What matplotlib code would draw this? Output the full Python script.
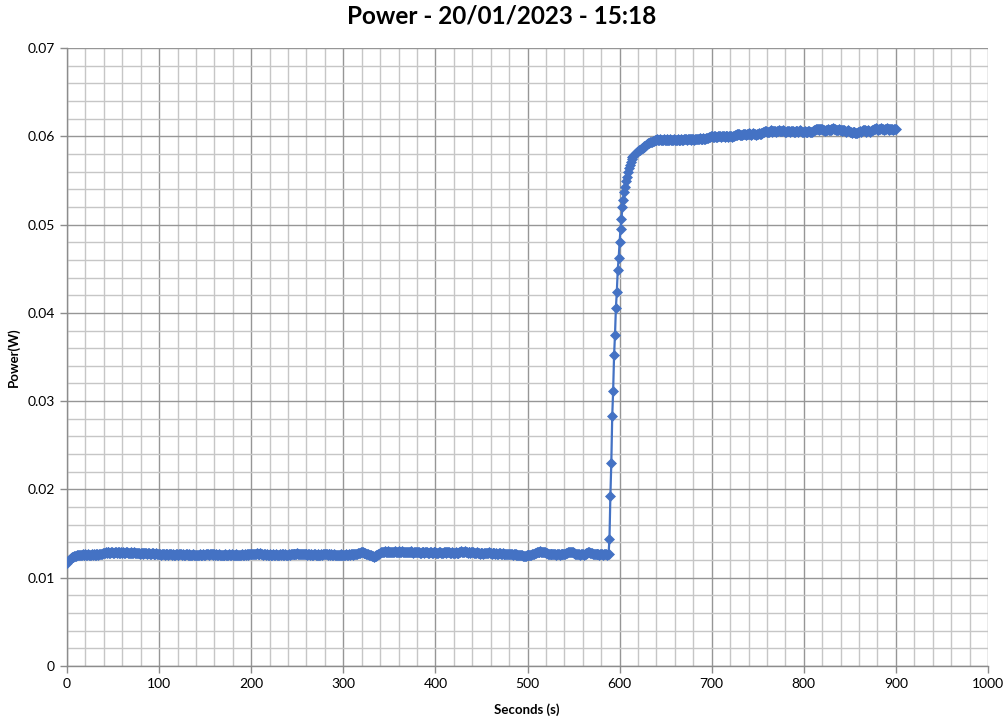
import numpy as np
import matplotlib
matplotlib.use("Agg")
import matplotlib.pyplot as plt
from matplotlib.ticker import MultipleLocator, FuncFormatter

# Power readings in units of 1e-5 W, one per second starting at t = 0 s
baseline = """
1170 1190 1205 1215 1225 1230 1235 1240 1245 1248 1250 1255 1252 1258 1262 1255 1260 1265 1258 1262
1265 1258 1262 1270 1260 1255 1262 1268 1260 1265 1258 1262 1270 1265 1260 1268 1272 1265 1270 1275
1280 1285 1290 1282 1288 1292 1285 1280 1288 1290 1285 1282 1290 1288 1283 1287 1292 1285 1280 1286
1282 1288 1285 1280 1286 1290 1283 1278 1285 1288 1282 1276 1283 1287 1280 1275 1282 1285 1279 1274
1280 1283 1277 1272 1278 1282 1275 1270 1276 1280 1273 1268 1275 1279 1272 1267 1273 1277 1270 1266
1272 1266 1262 1268 1272 1265 1260 1266 1270 1263 1258 1265 1270 1264 1260 1266 1262 1258 1264 1268
1262 1258 1265 1270 1263 1259 1266 1262 1257 1263 1268 1262 1258 1264 1260 1255 1261 1266 1260 1256
1262 1258 1254 1260 1265 1259 1255 1262 1267 1262 1258 1265 1270 1264 1260 1266 1272 1266 1262 1268
1264 1260 1266 1262 1258 1264 1260 1256 1262 1258 1254 1260 1265 1259 1256 1262 1266 1260 1257 1263
1259 1255 1261 1265 1259 1256 1262 1258 1254 1260 1264 1258 1262 1266 1261 1264 1268 1262 1266 1270
1266 1270 1274 1268 1264 1270 1275 1270 1266 1272 1276 1270 1266 1262 1268 1264 1260 1266 1262 1258
1264 1260 1256 1262 1266 1260 1257 1263 1259 1255 1261 1265 1259 1263 1267 1262 1258 1264 1260 1256
1262 1266 1260 1264 1268 1264 1270 1274 1268 1272 1276 1272 1268 1274 1270 1266 1272 1268 1264 1270
1266 1262 1268 1264 1260 1266 1262 1258 1264 1268 1262 1258 1264 1260 1256 1262 1266 1260 1264 1268
1264 1270 1266 1262 1268 1264 1260 1266 1262 1258 1264 1260 1256 1262 1258 1254 1260 1264 1258 1262
1258 1254 1260 1264 1258 1262 1266 1260 1264 1268 1263 1259 1265 1270 1266 1272 1276 1280 1284 1288
1292 1288 1284 1280 1276 1272 1268 1264 1260 1256 1252 1248 1244 1240 1244 1248 1254 1260 1266 1272
1280 1286 1292 1296 1292 1298 1294 1290 1296 1300 1294 1290 1296 1292 1288 1294 1298 1292 1288 1294
1298 1293 1288 1294 1300 1296 1290 1286 1292 1296 1290 1286 1292 1298 1294 1288 1284 1290 1296 1292
1288 1294 1290 1284 1280 1286 1292 1288 1284 1290 1294 1288 1284 1280 1286 1290 1284 1280 1286 1292
1288 1282 1278 1284 1290 1286 1280 1276 1282 1288 1293 1288 1284 1290 1294 1288 1284 1280 1286 1282
1278 1284 1288 1282 1278 1284 1290 1294 1298 1294 1290 1296 1300 1294 1288 1284 1290 1286 1282 1288
1292 1286 1282 1278 1284 1288 1282 1278 1274 1280 1284 1278 1274 1280 1284 1280 1276 1282 1286 1280
1276 1272 1278 1282 1276 1272 1278 1274 1270 1276 1280 1274 1270 1276 1272 1268 1274 1270 1266 1272
1268 1264 1270 1266 1262 1268 1264 1260 1266 1262 1258 1254 1260 1256 1252 1250 1248 1246 1250 1254
1258 1262 1258 1256 1262 1266 1270 1274 1278 1282 1288 1292 1288 1294 1298 1292 1288 1294 1290 1286
1282 1278 1274 1270 1274 1270 1266 1270 1274 1270 1266 1262 1266 1270 1266 1262 1268 1272 1268 1264
1270 1274 1280 1284 1288 1292 1288 1294 1290 1286 1282 1278 1274 1270 1266 1270 1266 1262 1266 1270
1266 1262 1268 1272 1276 1282 1286 1290 1284 1280 1276 1272 1268 1272 1268 1264 1268 1264 1260 1264
1268 1264 1260 1264 1268 1264 1262 1266 1268
"""

rise = """
1440 1930 2300 2830 3120 3520 3750 4060 4240 4490 4620 4800 4950 5060 5200 5280
5370 5430 5490 5540 5590 5640 5680 5710 5740 5760 5780 5790 5800 5810 5820 5830
5840 5850 5860 5870 5870 5880 5890 5890 5900 5910 5920 5920 5930 5940 5940 5950
5950 5960 5960 5960
"""

plateau = """
5965 5958 5962 5968 5960 5956 5963 5967 5960 5955 5962 5966 5959 5963 5968 5962 5957 5963 5967 5960
5955 5962 5966 5960 5956 5963 5968 5962 5958 5965 5970 5964 5960 5966 5971 5965 5961 5968 5972 5966
5962 5969 5974 5968 5964 5971 5976 5970 5966 5973 5978 5972 5968 5975 5980 5985 5990 5995 5998 6002
5996 5992 5998 6003 5997 5993 5999 6004 5998 5994 6000 6005 5999 5995 6001 6006 6000 5996 6002 6007
6001 5997 6003 6008 6012 6016 6020 6026 6030 6024 6018 6014 6020 6026 6030 6024 6020 6026 6030 6036
6030 6024 6020 6026 6032 6028 6022 6018 6024 6030 6036 6030 6026 6032 6038 6044 6050 6056 6060 6054
6048 6054 6060 6066 6060 6054 6058 6064 6058 6052 6058 6064 6068 6062 6056 6060 6066 6062 6056 6050
6054 6060 6064 6058 6052 6058 6062 6056 6050 6054 6060 6064 6058 6054 6060 6066 6060 6054 6048 6054
6058 6052 6046 6050 6056 6060 6054 6048 6054 6060 6066 6072 6078 6084 6088 6082 6076 6080 6086 6080
6074 6068 6062 6066 6072 6078 6072 6066 6072 6078 6084 6090 6084 6078 6072 6066 6072 6078 6072 6066
6060 6066 6072 6066 6060 6054 6060 6066 6060 6054 6048 6042 6048 6054 6048 6042 6036 6042 6048 6054
6060 6054 6060 6066 6072 6066 6060 6054 6060 6066 6060 6054 6060 6066 6072 6078 6084 6090 6084 6078
6072 6078 6084 6090 6084 6078 6072 6078 6084 6090 6084 6078 6072 6078 6084 6080 6076 6082 6086 6080
"""

power = np.array([int(v) for v in (baseline + rise + plateau).split()]) * 1e-5
seconds = np.arange(len(power))

title = "Power - 20/01/2023 - 15:18"
xlabel = "Seconds (s)"
ylabel = "Power(W)"

fig = plt.figure(figsize=(10.07, 7.22), dpi=100)
ax = fig.add_axes([67/1007, 1-666/722, (988-67)/1007, (666-48)/722])

ax.plot(seconds, power, color="#4472C4", lw=1.6, marker="D", ms=5.6,
        markeredgewidth=0.5, markeredgecolor="#4472C4", zorder=3)

ax.set_xlim(0, 1000)
ax.set_ylim(0, 0.07)
ax.xaxis.set_major_locator(MultipleLocator(100))
ax.xaxis.set_minor_locator(MultipleLocator(20))
ax.yaxis.set_major_locator(MultipleLocator(0.01))
ax.yaxis.set_minor_locator(MultipleLocator(0.002))
ax.yaxis.set_major_formatter(FuncFormatter(lambda v, p: "0" if abs(v) < 1e-12 else f"{v:.2f}"))

ax.grid(which="major", color="#969696", lw=1.0, zorder=0)
ax.grid(which="minor", color="#c6c6c6", lw=1.0, zorder=0)
ax.set_axisbelow(True)

for s in ("top", "right"):
    ax.spines[s].set_visible(False)
for s in ("left", "bottom"):
    ax.spines[s].set_color("#8c8c8c")
    ax.spines[s].set_linewidth(1.0)

ax.tick_params(which="major", length=5, width=1, color="#8c8c8c",
               labelsize=10, labelcolor="#000000", pad=4)
ax.tick_params(which="minor", length=0)
for lab in ax.get_xticklabels() + ax.get_yticklabels():
    lab.set_family(["Lato", "DejaVu Sans"])

fig.text(502/1007, 1-16/722, title, ha="center", va="center",
         fontsize=17.5, fontweight="bold", family=["Lato", "DejaVu Sans"])
fig.text(527/1007, 1-710/722, xlabel, ha="center", va="center",
         fontsize=9.5, fontweight="bold", family=["Lato", "DejaVu Sans"])
fig.text(14/1007, 1-357/722, ylabel, ha="center", va="center", rotation=90,
         fontsize=9.5, fontweight="bold", family=["Lato", "DejaVu Sans"])

fig.savefig("out.png", dpi=100)
